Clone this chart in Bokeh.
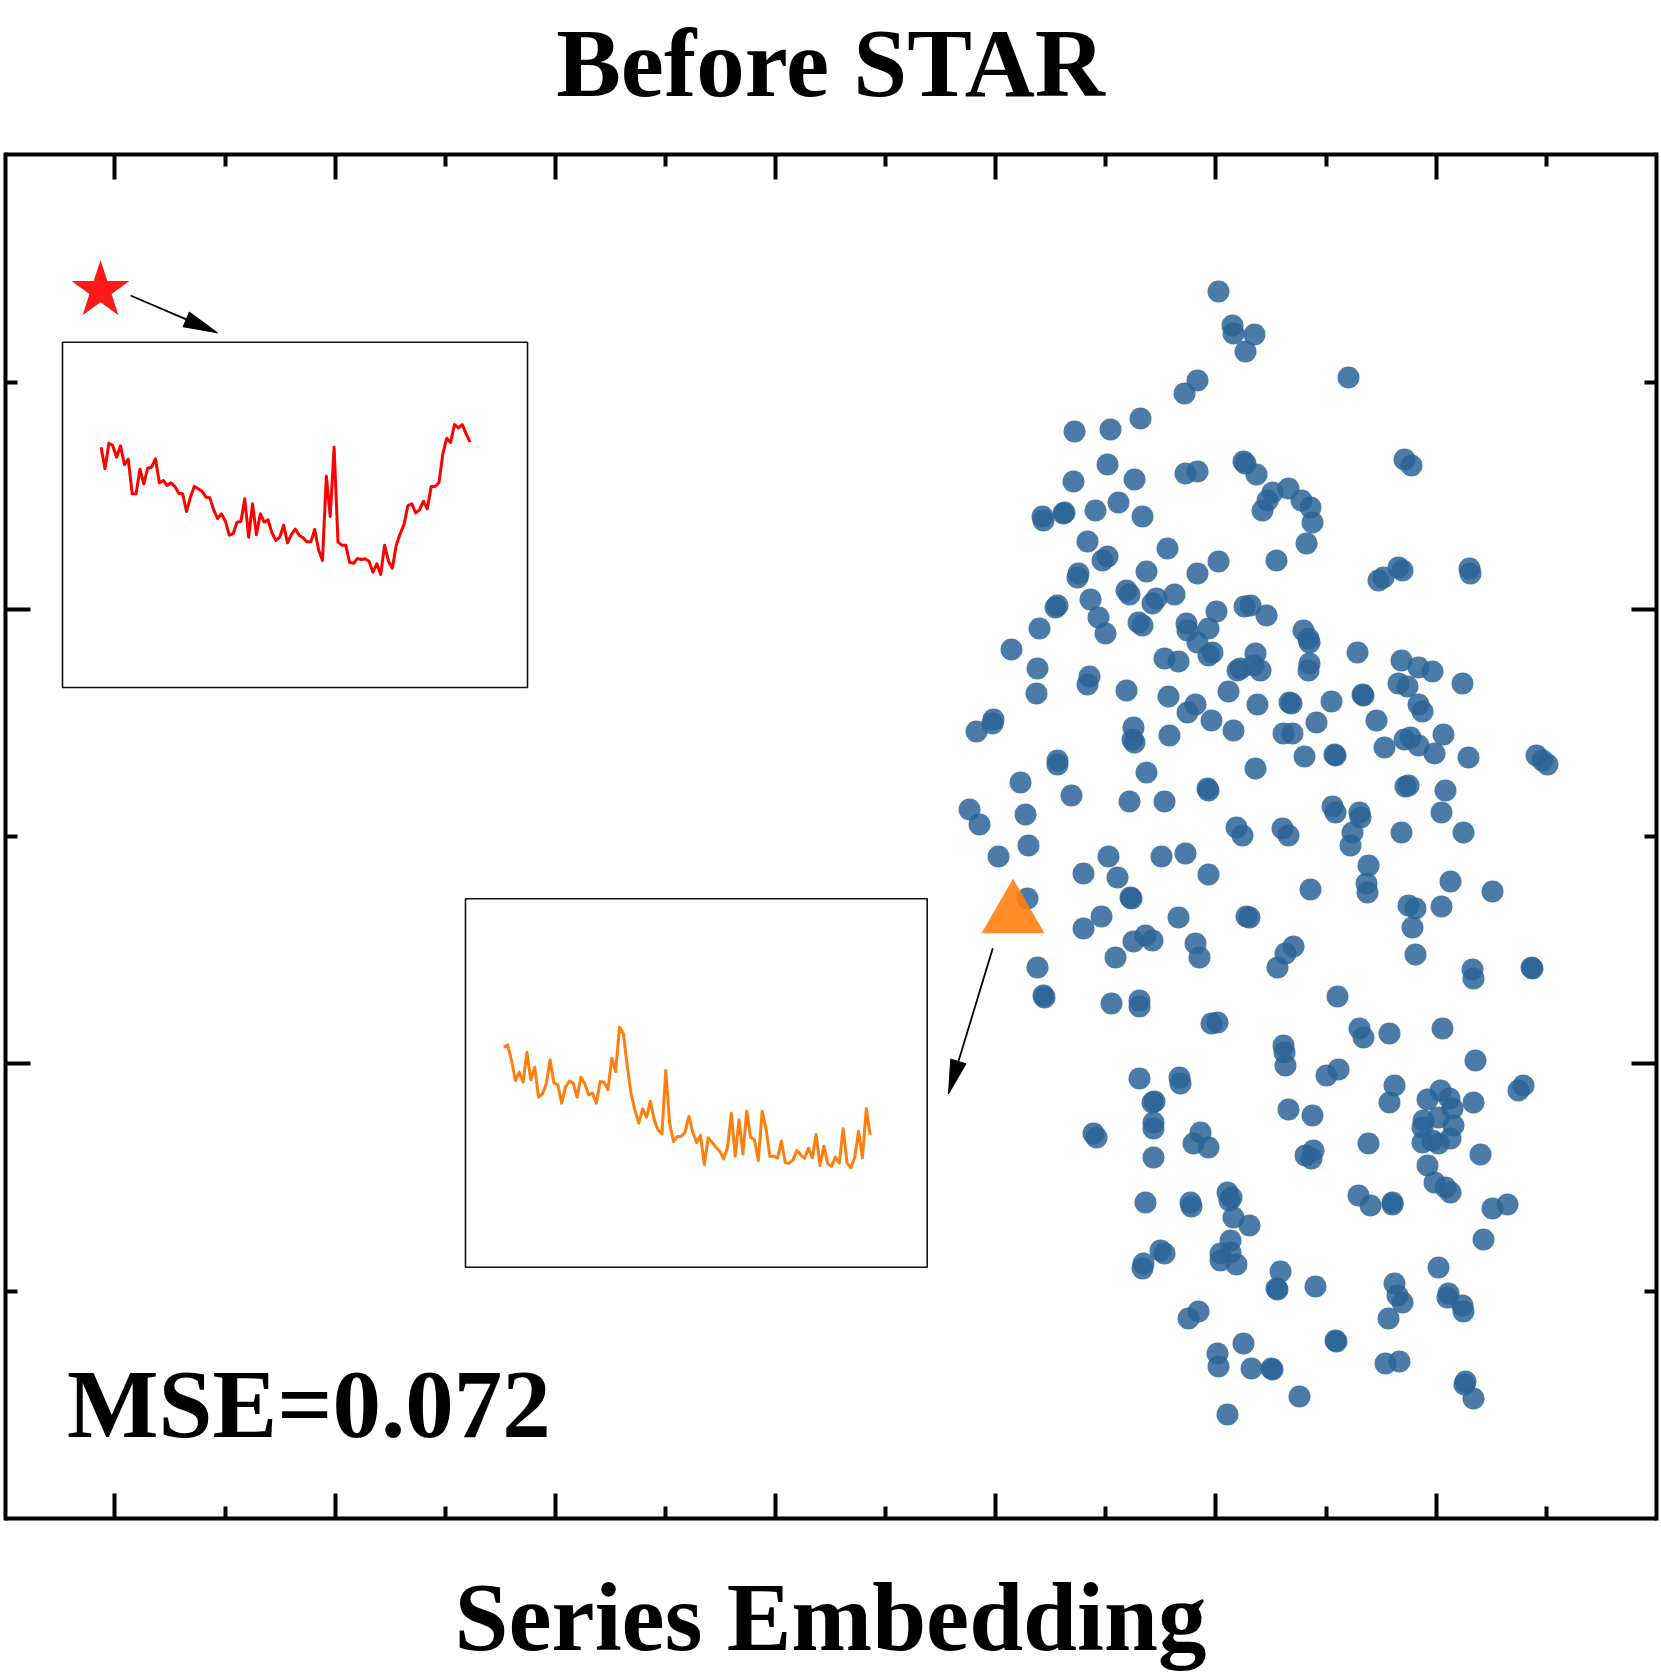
from math import hypot
from bokeh.plotting import figure
from bokeh.models import Range1d, LinearAxis, FixedTicker, Label, CustomJSTickFormatter
from bokeh.embed import file_html
from bokeh.resources import INLINE

# ---------------- data ----------------
title_text = "Before STAR"
xlabel_text = "Series Embedding"
mse_text = "MSE=0.072"

# 2-D embedding of the series (arbitrary embedding units)
emb_x = [
    12.18, 12.32, 12.33, 12.54, 12.45, 11.97, 11.84, 11.40, 11.10, 10.74, 11.07, 10.73, 11.34, 11.18, 11.42,
    10.95, 10.42, 10.43, 10.64, 10.63, 11.85, 11.97, 12.43, 12.45, 10.87, 11.02, 11.07, 11.67, 12.18,
    13.48, 14.04, 14.11, 12.56, 12.72, 12.88, 12.67, 12.62, 13.01, 13.10, 13.12, 13.06, 12.76,
    10.77, 10.78, 11.46, 11.97, 10.55, 10.57, 10.90, 10.98, 11.05, 10.39, 10.11, 10.37, 10.36, 11.26, 11.29,
    11.52, 11.56, 11.74, 11.38, 11.42, 11.86, 11.87, 12.08, 12.16, 12.44, 11.97, 12.08, 12.12, 11.64, 11.78,
    12.37, 12.40, 10.89, 10.87, 11.26, 11.68, 12.28, 11.95, 11.87, 12.11, 12.33, 9.93, 9.92, 9.76, 11.33,
    11.32, 11.34, 11.69, 10.57, 10.57, 10.20, 10.71, 11.46, 12.07, 12.08, 11.29, 11.64, 9.69, 9.79, 10.25,
    10.28, 12.36, 12.42,
    13.78, 13.83, 13.98, 14.02, 14.69, 14.70, 12.50, 12.66, 13.03, 13.08, 13.09, 12.55, 12.53, 12.60, 13.09,
    13.08, 13.57, 14.01, 14.18, 14.32, 13.98, 14.07, 14.62, 14.18, 14.22, 12.57, 12.89, 12.91, 13.31, 13.62,
    13.16, 13.76, 12.83, 12.92, 14.43, 14.04, 14.10, 14.18, 14.34, 13.04, 13.34, 13.84, 14.68, 12.55, 15.36,
    15.42, 15.47, 14.05, 14.08, 14.45, 14.41, 13.32, 13.35, 13.59, 13.60, 12.82, 12.88, 13.52, 13.50, 14.01,
    14.63, 13.35, 13.63,
    9.98, 11.08, 11.61, 11.85, 10.83, 11.17, 12.08, 10.27, 11.30, 11.01, 10.83, 11.78, 12.46, 12.49, 11.33,
    11.45, 11.52, 11.15, 11.95, 11.99, 10.37, 10.43, 11.11, 11.39, 11.39, 12.11, 12.17, 11.39, 11.79, 11.80,
    11.54, 11.52, 11.53, 11.53, 10.93, 10.96, 12.00, 11.31, 10.44,
    13.68, 13.66, 13.67, 13.10, 14.50, 14.92, 14.08, 14.15, 14.12, 14.41, 14.15, 14.72, 14.73, 15.31, 12.93,
    12.85, 12.77, 13.37, 13.59, 13.63, 13.89, 14.42, 12.83, 12.84, 12.85, 14.75, 13.26, 13.38, 13.94, 13.89,
    15.23, 15.18, 14.73, 12.88, 13.12, 14.27, 14.40, 14.49, 14.52, 14.23, 14.22, 14.38, 14.53, 14.22, 14.32,
    14.50, 14.38, 15.32,
    11.93, 12.08, 11.53, 11.45, 11.90, 11.91, 12.27, 12.31, 12.29, 12.33, 12.49, 12.30, 12.20, 12.30, 12.20,
    12.36, 11.60, 11.64, 11.43, 11.42, 11.98, 11.88, 12.43, 12.17, 12.18, 12.51, 12.27,
    13.05, 13.13, 13.11, 13.68, 14.80, 14.27, 14.34, 14.45, 14.50, 14.92, 15.07, 14.83, 13.58, 13.70, 13.92,
    13.92, 12.80, 12.76, 12.77, 13.15, 13.94, 13.97, 14.02, 13.88, 14.38, 14.48, 14.47, 14.62, 14.63, 13.35,
    13.36, 12.71, 12.72, 12.99, 13.85, 13.99, 14.65, 14.64, 14.73,
]
emb_y = [
    2.91, 3.25, 3.33, 3.34, 3.51, 3.80, 3.93, 4.18, 4.29, 4.31, 4.64, 4.81, 4.79, 5.02, 5.16,
    5.10, 5.16, 5.20, 5.12, 5.13, 4.73, 4.71, 4.61, 4.63, 5.41, 5.60, 5.56, 5.48, 5.61,
    3.77, 4.59, 4.65, 4.74, 4.92, 4.88, 5.00, 5.10, 5.00, 5.07, 5.22, 5.43, 5.60,
    5.77, 5.73, 5.71, 5.73, 6.07, 6.05, 5.99, 6.17, 6.33, 6.28, 6.49, 6.68, 6.93, 5.90, 5.94,
    6.03, 5.98, 5.94, 6.22, 6.25, 6.23, 6.30, 6.28, 6.11, 6.06, 6.42, 6.55, 6.52, 6.58, 6.61,
    6.70, 6.68, 6.76, 6.84, 6.90, 6.96, 6.91, 7.04, 7.12, 7.20, 7.30, 7.19, 7.23, 7.31, 7.27,
    7.39, 7.42, 7.35, 7.60, 7.64, 7.82, 7.95, 7.72, 7.88, 7.90, 8.01, 8.01, 8.09, 8.24, 8.14,
    8.45, 8.27, 8.35,
    5.80, 5.77, 5.67, 5.70, 5.68, 5.73, 6.05, 6.15, 6.30, 6.38, 6.42, 6.53, 6.65, 6.70, 6.63,
    6.70, 6.52, 6.60, 6.67, 6.71, 6.83, 6.86, 6.83, 7.04, 7.11, 7.04, 7.02, 7.03, 7.01, 6.94,
    7.22, 7.20, 7.33, 7.33, 7.34, 7.39, 7.37, 7.45, 7.53, 7.56, 7.54, 7.47, 7.57, 7.68, 7.55,
    7.60, 7.64, 7.86, 7.85, 7.90, 8.12, 8.06, 8.12, 8.12, 8.17, 8.28, 8.35, 8.32, 8.45, 8.32,
    8.32, 7.55, 6.95,
    8.56, 8.56, 8.56, 8.53, 8.73, 8.77, 8.74, 8.98, 8.97, 9.16, 9.28, 9.17, 9.16, 9.17, 9.41,
    9.35, 9.40, 9.57, 9.43, 9.57, 9.67, 9.95, 10.03, 10.00, 10.06, 10.23, 10.22, 10.78, 10.77, 10.83,
    11.01, 11.02, 11.22, 11.28, 11.33, 11.37, 11.32, 8.98, 9.97,
    8.65, 8.83, 8.92, 8.89, 8.81, 8.91, 9.05, 9.08, 9.27, 9.06, 9.54, 9.69, 9.78, 9.67, 9.46,
    9.53, 9.67, 9.96, 10.28, 10.37, 10.33, 10.28, 10.45, 10.52, 10.65, 10.60, 10.75, 10.69, 10.85, 11.02,
    10.85, 10.90, 11.02, 11.09, 11.15, 10.99, 10.90, 10.98, 11.08, 11.20, 11.27, 11.17, 11.25, 11.42, 11.40,
    11.38, 11.43, 9.68,
    11.43, 11.47, 11.57, 12.02, 12.02, 12.06, 11.92, 11.97, 12.00, 12.17, 12.25, 12.40, 12.53, 12.52, 12.60,
    12.64, 12.50, 12.53, 12.63, 12.68, 13.11, 13.18, 13.43, 13.53, 13.66, 13.68, 14.14,
    11.55, 11.50, 11.58, 11.43, 11.54, 11.65, 11.82, 11.87, 11.92, 12.08, 12.04, 12.39, 11.95, 12.05, 12.02,
    12.04, 12.71, 12.88, 12.89, 12.86, 12.83, 12.95, 13.02, 13.18, 12.67, 12.93, 12.97, 13.05, 13.11, 13.40,
    13.41, 13.68, 13.69, 13.96, 13.63, 13.61, 13.81, 13.84, 13.98,
]

# highlighted samples in the embedding
star_x, star_y = [1.00], [2.90]
tri_x, tri_y = [10.125], [9.145]

# raw series of the two highlighted samples
red_series = [
    3.80, 3.15, 3.92, 3.85, 3.50, 3.84, 3.28, 3.44, 2.40, 2.40,
    3.14, 2.70, 3.17, 3.20, 3.45, 2.73, 2.80, 2.65, 2.73, 2.62,
    2.42, 2.40, 1.87, 2.30, 2.63, 2.55, 2.48, 2.30, 2.28, 1.92,
    1.66, 1.80, 1.58, 1.16, 1.20, 1.55, 1.57, 2.25, 1.10, 2.10,
    1.17, 1.80, 1.55, 1.62, 1.23, 1.00, 1.10, 1.46, 0.93, 1.18,
    1.34, 1.16, 1.08, 0.96, 0.96, 1.33, 0.72, 0.40, 2.93, 1.72,
    3.80, 0.95, 0.86, 0.86, 0.34, 0.32, 0.46, 0.43, 0.45, 0.38,
    0.05, 0.30, -0.02, 0.86, 0.38, 0.17, 0.86, 1.20, 1.48, 2.05,
    2.10, 1.83, 1.92, 2.18, 1.95, 2.62, 2.62, 2.74, 3.60, 4.07,
    3.94, 4.48, 4.38, 4.48, 4.20, 3.95,
]
orange_series = [
    5.00, 5.07, 4.60, 4.00, 4.25, 3.95, 4.85, 4.02, 4.40, 3.50,
    3.60, 3.90, 4.62, 3.92, 3.88, 3.32, 3.80, 3.98, 3.92, 3.50,
    4.10, 3.90, 3.57, 3.62, 3.32, 3.97, 3.95, 3.72, 4.67, 4.27,
    5.60, 5.40, 4.45, 3.60, 3.10, 2.72, 3.15, 2.90, 3.38, 2.82,
    2.52, 2.40, 4.30, 2.72, 2.17, 2.32, 2.32, 2.45, 2.93, 2.45,
    2.14, 2.35, 1.48, 2.28, 2.15, 2.00, 1.88, 1.65, 1.98, 3.02,
    1.73, 2.82, 1.80, 3.08, 2.30, 2.22, 1.60, 3.08, 2.55, 1.73,
    1.73, 1.67, 2.18, 1.53, 1.52, 1.62, 1.90, 1.77, 1.67, 1.97,
    1.68, 2.38, 1.45, 2.03, 1.50, 1.43, 1.70, 1.52, 2.55, 1.53,
    1.38, 1.70, 2.48, 1.68, 3.15, 2.37,
]

# unlabeled ticks (embedding units)
x_major = [1.144, 3.346, 5.548, 7.750, 9.952, 12.154, 14.356]
x_minor = [2.245, 4.447, 6.649, 8.851, 11.053, 13.255, 15.457]
y_major = [6.088, 10.634]
y_minor = [3.815, 8.361, 12.907]

# extent of the axes box (embedding units)
box_left, box_right = 0.05, 16.56
box_top, box_bottom = 1.54, 15.18

# ---------------- figure ----------------
FONT = "Liberation Serif"
TXT_SHIFT = 0.35  # baseline correction for the 97px labels

p = figure(
    frame_width=1651, frame_height=1674,
    x_range=Range1d(box_left, box_right), y_range=Range1d(16.74, 0.0),
    min_border_left=5, min_border_right=3, min_border_top=0, min_border_bottom=0,
    output_backend="svg", toolbar_location=None,
    background_fill_color="white", border_fill_color="white",
)
p.grid.visible = False
p.outline_line_color = None

ax_below = p.below[0]
ax_left = p.left[0]
ax_below.fixed_location = box_bottom
ax_above = LinearAxis(fixed_location=box_top)
ax_right = LinearAxis()
p.add_layout(ax_above, "above")
p.add_layout(ax_right, "right")

blank = CustomJSTickFormatter(code="return ''")
for ax, is_x in [(ax_below, True), (ax_above, True), (ax_left, False), (ax_right, False)]:
    ax.ticker = FixedTicker(ticks=x_major if is_x else y_major,
                            minor_ticks=x_minor if is_x else y_minor)
    if not is_x:
        ax.bounds = (box_top, box_bottom)
    ax.formatter = blank
    ax.axis_line_color = "black"
    ax.axis_line_width = 4
    ax.axis_line_cap = "square"
    ax.major_tick_in = 25
    ax.major_tick_out = 0
    ax.minor_tick_in = 12
    ax.minor_tick_out = 0
    ax.major_tick_line_width = 4
    ax.minor_tick_line_width = 4
    ax.major_tick_line_color = "black"
    ax.minor_tick_line_color = "black"
    ax.major_label_text_font_size = "1px"
    ax.major_label_standoff = 0

# scatter of embeddings
p.scatter(emb_x, emb_y, size=22, fill_color="#2c6497", fill_alpha=0.85, line_color=None)

# highlighted markers
p.scatter(tri_x, tri_y, marker="triangle", size=63, fill_color="#ff7f0e", fill_alpha=0.9, line_color=None)
p.scatter(star_x, star_y, marker="star", size=61, fill_color="#ff1a1a", line_color=None)

# ---------------- insets ----------------
def inset(series, color, box_x, box_y, src_y):
    n = len(series)
    p.quad(left=[box_x[0]], right=[box_x[1]], top=[box_y[1]], bottom=[box_y[0]],
           fill_color=None, line_color="#111111", line_width=1.6)
    sub = p.subplot(
        x_source=Range1d(-9.94, n - 1 + 14.8),
        y_source=Range1d(src_y[0], src_y[1]),
        x_target=Range1d(box_x[0], box_x[1]),
        y_target=Range1d(box_y[0], box_y[1]),
    )
    sub.line(x=list(range(n)), y=series, line_color=color, line_width=3, line_join="round")

inset(red_series, "#ff0000", (0.62, 5.27), (6.87, 3.417), (-3.41, 6.95))
inset(orange_series, "#ff7f0e", (4.65, 9.267), (12.667, 8.983), (-1.60, 9.45))

# ---------------- arrows ----------------
def arrow(x0, y0, x1, y1, L=0.34, W=0.08):
    d = hypot(x1 - x0, y1 - y0)
    ux, uy = (x1 - x0) / d, (y1 - y0) / d
    bx, by = x1 - ux * L, y1 - uy * L
    p.segment(x0=[x0], y0=[y0], x1=[bx], y1=[by], line_color="black", line_width=1.8)
    p.patch([x1, bx - uy * W, bx + uy * W], [y1, by + ux * W, by - ux * W],
            fill_color="black", line_color="black", line_width=1)

arrow(1.30, 2.95, 2.17, 3.323)
arrow(9.923, 9.477, 9.48, 10.935)

# ---------------- texts ----------------
def label(x, y, text, align):
    p.add_layout(Label(x=x, y=y - TXT_SHIFT, text=text, text_align=align, text_baseline="alphabetic",
                       text_font=FONT, text_font_size="97px", text_font_style="bold", text_color="black"))

label(8.30, 0.98, title_text, "center")
label(8.30, 16.515, xlabel_text, "center")
label(0.665, 14.385, mse_text, "left")

open("out.html", "w").write(file_html(p, INLINE))
